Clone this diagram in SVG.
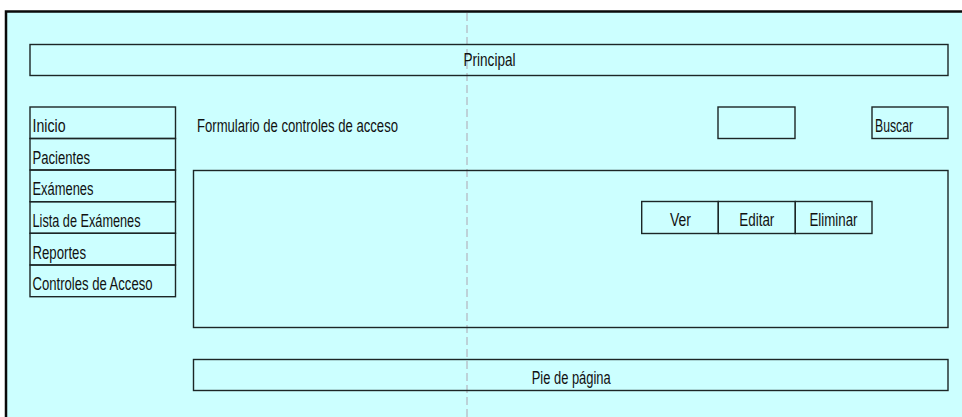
<svg xmlns="http://www.w3.org/2000/svg" width="962" height="417" viewBox="0 0 962 417">
<style>
.box{fill:none;stroke:#1c2626;stroke-width:1.4}
.t{font-family:"Liberation Sans",Arial,sans-serif;font-size:17.5px;fill:#111}
</style>
<rect x="0" y="0" width="962" height="417" fill="#ffffff"/>
<rect x="6" y="11.5" width="962" height="410" fill="#ccffff"/>
<path d="M6 417 V11.5 H962" fill="none" stroke="#0a0a0a" stroke-width="2.5"/>
<line x1="467" y1="13" x2="467" y2="417" stroke="#b8c4cc" stroke-width="1.5" stroke-dasharray="8,4"/>
<g id="principal"><rect class="box" x="30" y="44.5" width="918" height="31"/><text class="t" x="463.5" y="66" textLength="52" lengthAdjust="spacingAndGlyphs">Principal</text></g>
<g id="menu">
<g id="inicio"><rect class="box" x="30" y="107" width="145.5" height="31.5"/><text class="t" x="32.5" y="132" textLength="33" lengthAdjust="spacingAndGlyphs">Inicio</text></g>
<g id="pacientes"><rect class="box" x="30" y="138.5" width="145.5" height="31.5"/><text class="t" x="32.5" y="163.5" textLength="57.5" lengthAdjust="spacingAndGlyphs">Pacientes</text></g>
<g id="examenes"><rect class="box" x="30" y="170" width="145.5" height="31.7"/><text class="t" x="32.5" y="195" textLength="61" lengthAdjust="spacingAndGlyphs">Exámenes</text></g>
<g id="lista"><rect class="box" x="30" y="201.7" width="145.5" height="31.6"/><text class="t" x="32.5" y="227" textLength="108" lengthAdjust="spacingAndGlyphs">Lista de Exámenes</text></g>
<g id="reportes"><rect class="box" x="30" y="233.3" width="145.5" height="31.7"/><text class="t" x="32.5" y="258.5" textLength="53.5" lengthAdjust="spacingAndGlyphs">Reportes</text></g>
<g id="controles"><rect class="box" x="30" y="265" width="145.5" height="31.7"/><text class="t" x="32.5" y="290" textLength="120" lengthAdjust="spacingAndGlyphs">Controles de Acceso</text></g>
</g>
<g id="titulo"><text class="t" x="197" y="132" textLength="201" lengthAdjust="spacingAndGlyphs">Formulario de controles de acceso</text></g>
<g id="busqueda"><rect class="box" x="718" y="107" width="77" height="31.5"/></g>
<g id="buscar"><rect class="box" x="872" y="107" width="76" height="31.5"/><text class="t" x="875" y="132" textLength="38" lengthAdjust="spacingAndGlyphs">Buscar</text></g>
<g id="contenido"><rect class="box" x="193.5" y="170.5" width="754.5" height="157"/></g>
<g id="ver"><rect class="box" x="641.7" y="201.5" width="76.6" height="32"/><text class="t" x="670" y="226" textLength="21" lengthAdjust="spacingAndGlyphs">Ver</text></g>
<g id="editar"><rect class="box" x="718.3" y="201.5" width="77" height="32"/><text class="t" x="739.3" y="226" textLength="35" lengthAdjust="spacingAndGlyphs">Editar</text></g>
<g id="eliminar"><rect class="box" x="795.3" y="201.5" width="76.7" height="32"/><text class="t" x="809.5" y="226" textLength="48" lengthAdjust="spacingAndGlyphs">Eliminar</text></g>
<g id="pie"><rect class="box" x="193.5" y="359.5" width="754.5" height="31"/><text class="t" x="531.7" y="384" textLength="79" lengthAdjust="spacingAndGlyphs">Pie de página</text></g>
<g id="connectors"></g>
</svg>
